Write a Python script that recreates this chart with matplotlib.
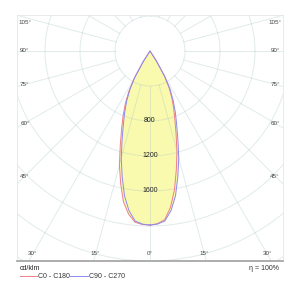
import numpy as np
import matplotlib
matplotlib.use("Agg")
import matplotlib.pyplot as plt

plt.rcParams['font.family'] = ['Liberation Sans', 'DejaVu Sans']

# luminous intensity (cd/klm) vs angle from nadir
angles = [0, 2.5, 5, 7.5, 10, 12.5, 15, 17.5, 20, 22.5, 25, 27.5, 30, 32.5, 35]
c0 = [1990, 1975, 1935, 1800, 1610, 1390, 1190, 990, 830, 705, 590, 470, 325, 130, 0]      # right half C0-C180
c180 = [1990, 1985, 1965, 1880, 1750, 1550, 1350, 1130, 950, 805, 670, 530, 365, 150, 0]   # left half C0-C180
c90 = [1990, 1980, 1950, 1840, 1680, 1470, 1270, 1060, 890, 755, 630, 500, 345, 140, 0]    # right half C90-C270
c270 = [1990, 1980, 1950, 1840, 1680, 1470, 1270, 1060, 890, 755, 630, 500, 345, 140, 0]   # left half C90-C270

ring_values = [400, 800, 1200, 1600, 2000, 2400, 2800]
ring_labels = [800, 1200, 1600]
side_angles = [105, 90, 75, 60, 45]
bottom_angles = [30, 15, 0]

def curve(right, left):
    a = np.radians(angles)
    r_r = np.array(right, dtype=float)
    r_l = np.array(left, dtype=float)
    x = np.concatenate([r_r * np.sin(a), (-r_l * np.sin(a))[::-1]])
    y = np.concatenate([-r_r * np.cos(a), (-r_l * np.cos(a))[::-1]])
    return x, y

fig = plt.figure(figsize=(3.0, 2.98), dpi=100)
ax = fig.add_axes([17 / 300, 37 / 298, 266 / 300, 246 / 298])
ax.set_xlim(-1520, 1520)
ax.set_ylim(-2400, 411)
ax.set_xticks([])
ax.set_yticks([])

yellow = '#fafaae'
xr, yr = curve(c0, c180)
xb, yb = curve(c90, c270)
ax.fill(xr, yr, color=yellow, lw=0, zorder=1)
ax.fill(xb, yb, color=yellow, lw=0, zorder=1)

grid_col = '#a9c6c6'
t = np.linspace(0, 2 * np.pi, 400)
for rv in ring_values:
    ax.plot(rv * np.cos(t), rv * np.sin(t), color=grid_col, lw=0.7, alpha=0.35, zorder=2)
for a in range(0, 360, 15):
    ar = np.radians(a)
    ax.plot([400 * np.sin(ar), 3200 * np.sin(ar)], [-400 * np.cos(ar), -3200 * np.cos(ar)],
            color=grid_col, lw=0.7, alpha=0.35, zorder=2)

ax.plot(xr, yr, color='#ee7f8a', lw=0.7, zorder=3)
ax.plot(xb, yb, color='#8a8af0', lw=0.7, zorder=3)

for v in ring_labels:
    ax.text(0, -v, str(v), ha='center', va='center', fontsize=5, color='#222222', zorder=4)

lab_col = '#444444'
for a in side_angles:
    y = -1430 / np.tan(np.radians(a)) if a != 90 else 0
    y = min(y, 320)
    ax.text(-1430, y, f"{a}°", ha='center', va='center', fontsize=4.5, color=lab_col)
    ax.text(1430, y, f"{a}°", ha='center', va='center', fontsize=4.5, color=lab_col)
for a in bottom_angles:
    x = 2320 * np.tan(np.radians(a))
    x = min(x, 1400)
    ax.text(-x, -2320, f"{a}°", ha='center', va='center', fontsize=4.5, color=lab_col)
    if a != 0:
        ax.text(x, -2320, f"{a}°", ha='center', va='center', fontsize=4.5, color=lab_col)

for s in ['left', 'top', 'right']:
    ax.spines[s].set_color('#e6e6e6')
    ax.spines[s].set_linewidth(0.6)
ax.spines['bottom'].set_color('#a0a0a0')
ax.spines['bottom'].set_linewidth(1.2)

# legend area below the frame
fig.text(20 / 300, 1 - 268 / 298, "cd/klm", fontsize=5, color='#222222', va='center', ha='left')
fig.add_artist(plt.Line2D([20 / 300, 37 / 300], [1 - 276 / 298] * 2, color='#ee7f8a', lw=0.7))
fig.text(38 / 300, 1 - 276 / 298, "C0 - C180", fontsize=5, color='#333333', va='center', ha='left')
fig.add_artist(plt.Line2D([70 / 300, 88 / 300], [1 - 276 / 298] * 2, color='#8a8af0', lw=0.7))
fig.text(89 / 300, 1 - 276 / 298, "C90 - C270", fontsize=5, color='#333333', va='center', ha='left')
fig.text(279 / 300, 1 - 268 / 298, "η = 100%", fontsize=5, color='#333333', va='center', ha='right')

fig.savefig("out.png", dpi=100)
